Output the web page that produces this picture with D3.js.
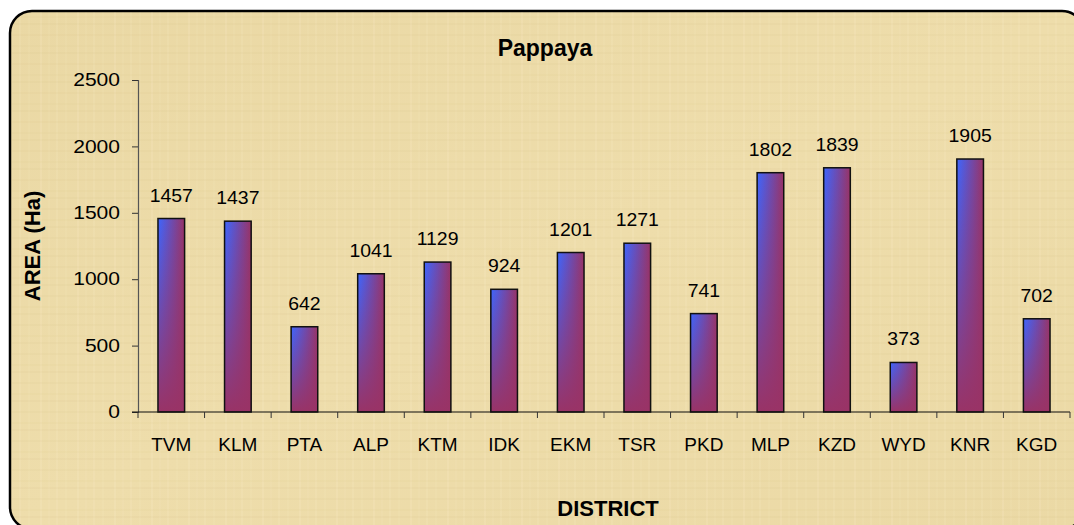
<!DOCTYPE html>
<html>
<head>
<meta charset="utf-8">
<script src="https://cdn.jsdelivr.net/npm/d3@7"></script>
<style>
  body { margin: 0; background: #fff; }
  text { font-family: "Liberation Sans", Arial, sans-serif; fill: #000; }
</style>
</head>
<body>
<div id="chart"></div>
<script>
// data
var districts = ["TVM", "KLM", "PTA", "ALP", "KTM", "IDK", "EKM", "TSR", "PKD", "MLP", "KZD", "WYD", "KNR", "KGD"];
var areaHa = [1457, 1437, 642, 1041, 1129, 924, 1201, 1271, 741, 1802, 1839, 373, 1905, 702];
var yTicks = [0, 500, 1000, 1500, 2000, 2500];

var W = 1074, H = 525;
var plot = { left: 138, right: 1070, top: 80, bottom: 412 };

var svg = d3.select("#chart").append("svg")
  .attr("width", W)
  .attr("height", H);

var defs = svg.append("defs");
// bar fill: blue at top-left, plum elsewhere
var gh = defs.append("linearGradient").attr("id", "barH")
  .attr("x1", 0).attr("y1", 0).attr("x2", 1).attr("y2", 0);
gh.append("stop").attr("offset", "0%").attr("stop-color", "#3d66ff");
gh.append("stop").attr("offset", "100%").attr("stop-color", "#993366");
var gv = defs.append("linearGradient").attr("id", "barV")
  .attr("x1", 0).attr("y1", 0).attr("x2", 0).attr("y2", 1);
gv.append("stop").attr("offset", "0%").attr("stop-color", "#993366").attr("stop-opacity", 0);
gv.append("stop").attr("offset", "100%").attr("stop-color", "#993366").attr("stop-opacity", 1);

// papyrus-ish background with a faint weave
var bg = defs.append("linearGradient").attr("id", "paper")
  .attr("x1", 0).attr("y1", 0).attr("x2", 1).attr("y2", 1);
bg.append("stop").attr("offset", "0%").attr("stop-color", "#ead8a4");
bg.append("stop").attr("offset", "50%").attr("stop-color", "#eeddab");
bg.append("stop").attr("offset", "100%").attr("stop-color", "#ebd9a5");
var weave = defs.append("pattern").attr("id", "weave")
  .attr("patternUnits", "userSpaceOnUse")
  .attr("width", 37).attr("height", 29);
[[3, 0.14], [11, 0.07], [19, 0.1], [28, 0.06]].forEach(function(p) {
  weave.append("rect").attr("x", p[0]).attr("y", 0).attr("width", 2).attr("height", 29)
    .attr("fill", "#fff6d8").attr("opacity", p[1]);
});
[[5, 0.08], [16, 0.05], [23, 0.07]].forEach(function(p) {
  weave.append("rect").attr("x", 0).attr("y", p[0]).attr("width", 37).attr("height", 2)
    .attr("fill", "#c9ad6c").attr("opacity", p[1]);
});

svg.append("rect")
  .attr("x", 10).attr("y", 11)
  .attr("width", 1074).attr("height", 518)
  .attr("rx", 22).attr("ry", 22)
  .attr("fill", "url(#paper)")
  .attr("stroke", "#000")
  .attr("stroke-width", 2.5);
svg.append("rect")
  .attr("x", 11.5).attr("y", 12.5)
  .attr("width", 1072).attr("height", 516)
  .attr("rx", 21).attr("ry", 21)
  .attr("fill", "url(#weave)");

var xScale = d3.scaleBand()
  .domain(districts)
  .range([plot.left, plot.right])
  .paddingInner(0.6)
  .paddingOuter(0.3);

var xBounds = d3.scaleLinear()
  .domain([0, districts.length])
  .range([plot.left, plot.right]);

var yScale = d3.scaleLinear()
  .domain([0, 2500])
  .range([plot.bottom, plot.top]);

// y axis
var stretch = 1.17;
var yAxisG = svg.append("g")
  .attr("transform", "translate(" + plot.left + ",0)")
  .call(d3.axisLeft(yScale).tickValues(yTicks).tickFormat(d3.format("d")).tickSize(6).tickPadding(13));
yAxisG.select(".domain").attr("stroke", "#555").attr("stroke-width", 1.2);
yAxisG.selectAll(".tick line").attr("stroke", "#333");
yAxisG.selectAll(".tick text")
  .style("font-size", "18px")
  .style("font-family", "Liberation Sans, Arial, sans-serif")
  .attr("fill", "#000")
  .attr("x", -18 / stretch)
  .attr("transform", "scale(" + stretch + ",1)");

// bars
var bars = svg.append("g");
bars.selectAll("rect.base")
  .data(areaHa)
  .enter().append("rect")
  .attr("class", "base")
  .attr("x", (d, i) => xScale(districts[i]))
  .attr("y", d => yScale(d))
  .attr("width", xScale.bandwidth())
  .attr("height", d => yScale(0) - yScale(d))
  .attr("fill", "url(#barH)");
bars.selectAll("rect.shade")
  .data(areaHa)
  .enter().append("rect")
  .attr("class", "shade")
  .attr("x", (d, i) => xScale(districts[i]))
  .attr("y", d => yScale(d))
  .attr("width", xScale.bandwidth())
  .attr("height", d => yScale(0) - yScale(d))
  .attr("fill", "url(#barV)")
  .attr("stroke", "#111")
  .attr("stroke-width", 1.5);

// value labels
svg.append("g").selectAll("text")
  .data(areaHa)
  .enter().append("text")
  .attr("transform", (d, i) => "translate(" + (xScale(districts[i]) + xScale.bandwidth() / 2) + "," + (yScale(d) - 17) + ") scale(1.08,1)")
  .attr("text-anchor", "middle")
  .style("font-size", "18px")
  .text(d => d);

// x axis: line from the 0 tick, ticks at category boundaries
var xAxisG = svg.append("g");
xAxisG.append("line")
  .attr("x1", plot.left - 6).attr("x2", plot.right)
  .attr("y1", plot.bottom).attr("y2", plot.bottom)
  .attr("stroke", "#111").attr("stroke-width", 1.2);
xAxisG.selectAll("line.tk")
  .data(d3.range(districts.length + 1))
  .enter().append("line")
  .attr("class", "tk")
  .attr("x1", d => xBounds(d)).attr("x2", d => xBounds(d))
  .attr("y1", plot.bottom).attr("y2", plot.bottom + 6)
  .attr("stroke", "#333");
xAxisG.selectAll("text")
  .data(districts)
  .enter().append("text")
  .attr("x", d => xScale(d) + xScale.bandwidth() / 2)
  .attr("y", 451)
  .attr("text-anchor", "middle")
  .style("font-size", "19px")
  .text(d => d);

// titles
svg.append("text")
  .attr("x", 545).attr("y", 56)
  .attr("text-anchor", "middle")
  .style("font-size", "23px")
  .style("font-weight", "bold")
  .text("Pappaya");

svg.append("text")
  .attr("transform", "translate(40," + ((plot.top + plot.bottom) / 2) + ") rotate(-90)")
  .attr("text-anchor", "middle")
  .style("font-size", "22px")
  .style("font-weight", "bold")
  .text("AREA (Ha)");

svg.append("text")
  .attr("x", 608).attr("y", 516)
  .attr("text-anchor", "middle")
  .style("font-size", "22px")
  .style("font-weight", "bold")
  .text("DISTRICT");
</script>
</body>
</html>
